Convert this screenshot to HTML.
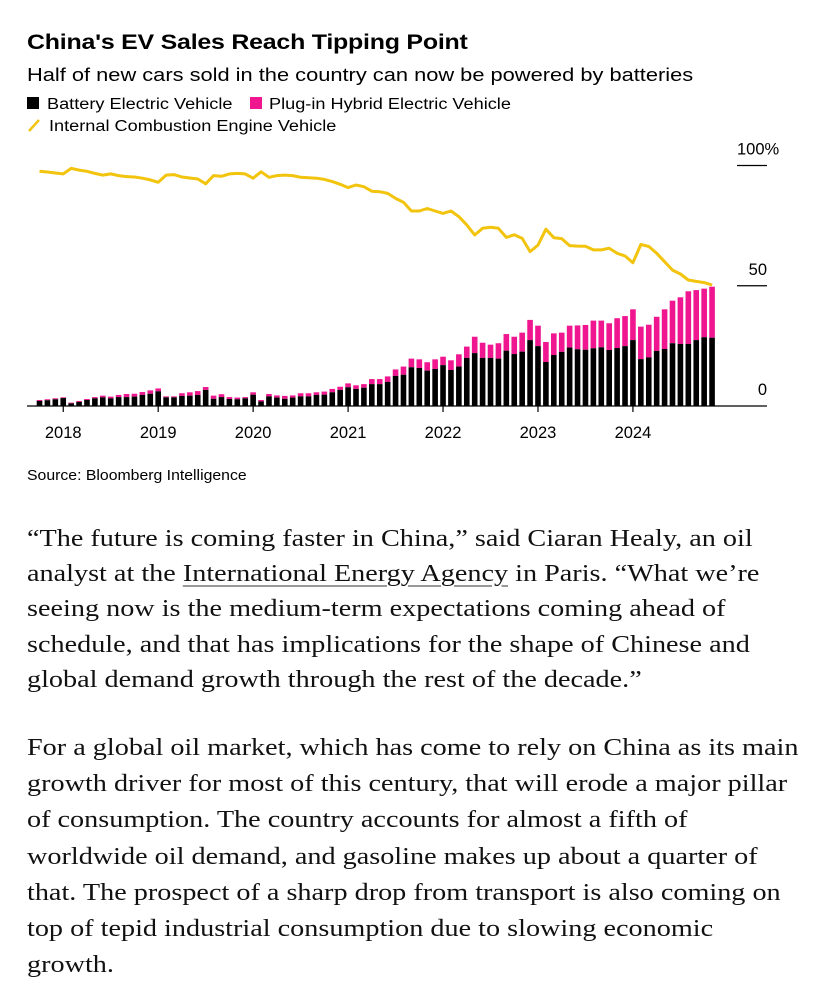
<!DOCTYPE html>
<html><head><meta charset="utf-8">
<style>
html,body{margin:0;padding:0;background:#fff;width:832px;height:1000px;overflow:hidden}
body{position:relative;font-family:"Liberation Sans",sans-serif;color:#000}
.abs{position:absolute;white-space:nowrap;transform-origin:0 0}
.body{font-family:"Liberation Serif",serif;font-size:24px;color:#111;transform:scaleX(1.175)}
a{color:#111;text-decoration:underline;text-decoration-color:#999;text-underline-offset:4px}
</style></head><body>
<div class="abs" style="left:27px;top:30px;font-size:21.5px;font-weight:bold;letter-spacing:-0.2px;transform:scaleX(1.16)">China's EV Sales Reach Tipping Point</div>
<div class="abs" style="left:27px;top:64px;font-size:18.5px;transform:scaleX(1.18)">Half of new cars sold in the country can now be powered by batteries</div>
<div class="abs" style="left:27px;top:96px;font-size:15.5px"><span style="display:inline-block;width:12px;height:12px;background:#000;margin-right:8px"></span><span style="display:inline-block;transform:scaleX(1.17);transform-origin:0 0">Battery Electric Vehicle</span></div>
<div class="abs" style="left:250px;top:96px;font-size:15.5px"><span style="display:inline-block;width:12px;height:12px;background:#f0168f;margin-right:7px"></span><span style="display:inline-block;transform:scaleX(1.17);transform-origin:0 0">Plug-in Hybrid Electric Vehicle</span></div>
<div class="abs" style="left:27px;top:118px;font-size:15.5px"><svg width="14" height="14" style="margin-right:8px;vertical-align:-1px"><line x1="2" y1="13" x2="12" y2="2" stroke="#f2c40e" stroke-width="2.5"/></svg><span style="display:inline-block;transform:scaleX(1.17);transform-origin:0 0">Internal Combustion Engine Vehicle</span></div>

<svg id="chart" class="abs" style="left:0;top:0" width="832" height="460"></svg>

<div class="abs" style="left:27px;top:468px;font-size:14.5px;transform:scaleX(1.09)">Source: Bloomberg Intelligence</div>

<div class="abs body" style="left:27px;top:522px;line-height:35.2px">“The future is coming faster in China,” said Ciaran Healy, an oil<br>analyst at the <a href="#">International Energy Agency</a> in Paris. “What we’re<br>seeing now is the medium-term expectations coming ahead of<br>schedule, and that has implications for the shape of Chinese and<br>global demand growth through the rest of the decade.”</div>
<div class="abs body" style="left:27px;top:730px;line-height:36.2px">For a global oil market, which has come to rely on China as its main<br>growth driver for most of this century, that will erode a major pillar<br>of consumption. The country accounts for almost a fifth of<br>worldwide oil demand, and gasoline makes up about a quarter of<br>that. The prospect of a sharp drop from transport is also coming on<br>top of tepid industrial consumption due to slowing economic<br>growth.</div>

<script>
const totalShare=[2.5,2.8,3.2,3.6,1.4,2.1,2.9,3.7,4.3,3.9,4.6,5.0,5.1,5.8,6.5,7.3,4.0,4.0,5.3,5.7,6.2,7.9,4.3,4.9,3.7,3.5,3.7,5.7,2.5,5.0,4.4,4.2,4.4,5.3,5.3,5.7,6.0,7.1,8.0,9.4,8.6,9.1,11.2,11.2,12.3,15.2,16.4,19.7,19.4,18.2,19.4,20.5,19.0,21.5,24.7,28.8,26.3,25.5,26.1,29.9,28.8,30.5,35.8,33.4,26.6,30.2,30.5,33.4,33.5,33.7,35.5,35.5,34.4,36.5,37.4,40.2,33.0,33.8,37.1,40.2,43.8,45.2,47.7,48.2,48.8,49.6];
const bevShare=[2.1,2.4,2.8,3.3,1.1,1.7,2.5,3.2,3.6,3.2,3.7,3.7,3.9,4.6,5.1,6.1,3.6,3.6,4.2,4.3,4.6,6.7,3.0,3.7,2.9,2.8,3.2,4.7,1.9,4.0,3.5,3.0,3.5,4.0,4.0,4.6,4.7,5.7,6.7,7.8,7.1,7.6,9.1,9.1,10.0,12.5,13.0,16.1,15.8,14.7,15.4,17.0,15.0,16.4,20.0,22.0,20.0,20.0,19.7,23.0,21.6,22.6,27.4,24.9,18.3,21.2,22.5,24.3,23.6,23.4,24.0,24.4,23.3,24.1,24.9,27.4,19.5,20.2,22.9,23.7,26.1,25.8,25.8,27.4,28.6,28.4];
const iceShare=[97.6,97.3,96.9,96.5,98.8,98.1,97.6,96.7,96.0,96.5,95.8,95.4,95.2,94.7,94.0,93.0,96.0,96.2,95.2,94.8,94.4,92.4,95.8,95.5,96.5,96.7,96.5,94.7,97.4,95.1,95.8,96.0,95.8,95.1,94.9,94.7,94.2,93.3,92.2,90.8,91.9,91.2,89.3,89.1,88.4,86.3,84.7,81.1,81.1,82.1,81.1,80.1,81.1,78.7,75.3,71.1,73.9,74.3,73.9,70.1,71.2,69.7,64.2,66.9,73.5,70.0,69.6,66.7,66.5,66.4,64.9,64.9,65.6,63.5,62.4,59.6,67.2,66.3,63.5,60.0,56.5,54.9,52.4,51.8,51.3,50.3];
const yearLabels=["2018","2019","2020","2021","2022","2023","2024"];
const yTicks=[0,50,100];
const startMonthIndex=-3; // Oct 2017 relative to Jan 2018

const NS="http://www.w3.org/2000/svg";
const svg=document.getElementById('chart');
const x0=39.5, step=94.95/12, y0=406, pxPer=2.405, bw=5.6;
const xScale=i=>x0+i*step;
const yScale=v=>y0-v*pxPer;
function mk(tag,attrs){const e=document.createElementNS(NS,tag);for(const k in attrs)e.setAttribute(k,attrs[k]);svg.appendChild(e);return e;}

totalShare.forEach((t,i)=>{
  const b=bevShare[i], x=xScale(i)-bw/2;
  const p=mk('rect',{x:x,y:yScale(t),width:bw,height:(t-b)*pxPer,fill:'#f0168f'});
  
  
  const r=mk('rect',{x:x,y:yScale(b),width:bw,height:b*pxPer,fill:'#000'});
  
  
});
const bl=mk('line',{x1:27,x2:767,y1:y0,y2:y0,stroke:'#000','stroke-width':1.3});


const pts=iceShare.map((v,i)=>xScale(i).toFixed(1)+','+yScale(v).toFixed(1)).join(' ');
const pl=mk('polyline',{points:pts,fill:'none',stroke:'#f2c40e','stroke-width':3,'stroke-linejoin':'round'});


yTicks.forEach(v=>{
  const yy=yScale(v);
  if(v>0){const g=mk('line',{x1:737,x2:767,y1:yy,y2:yy,stroke:'#000','stroke-width':1.3});
  
  }
  const t=mk('text',{x:767,y:yy-11,'text-anchor':'end','font-size':16.5,'font-family':'Liberation Sans, sans-serif'});
  t.textContent=v===100?'100%':String(v);
  if(v===100){t.setAttribute('x',737);t.setAttribute('text-anchor','start');}
  
  
});
yearLabels.forEach((lab,k)=>{
  const xx=xScale(k*12-startMonthIndex);
  const tk=mk('line',{x1:xx,x2:xx,y1:y0,y2:y0+6,stroke:'#000','stroke-width':1.2});
  
  
  const t=mk('text',{x:xx,y:438,'text-anchor':'middle','font-size':16.5,'font-family':'Liberation Sans, sans-serif'});
  t.textContent=lab;
  
  
});
</script>
</body></html>
